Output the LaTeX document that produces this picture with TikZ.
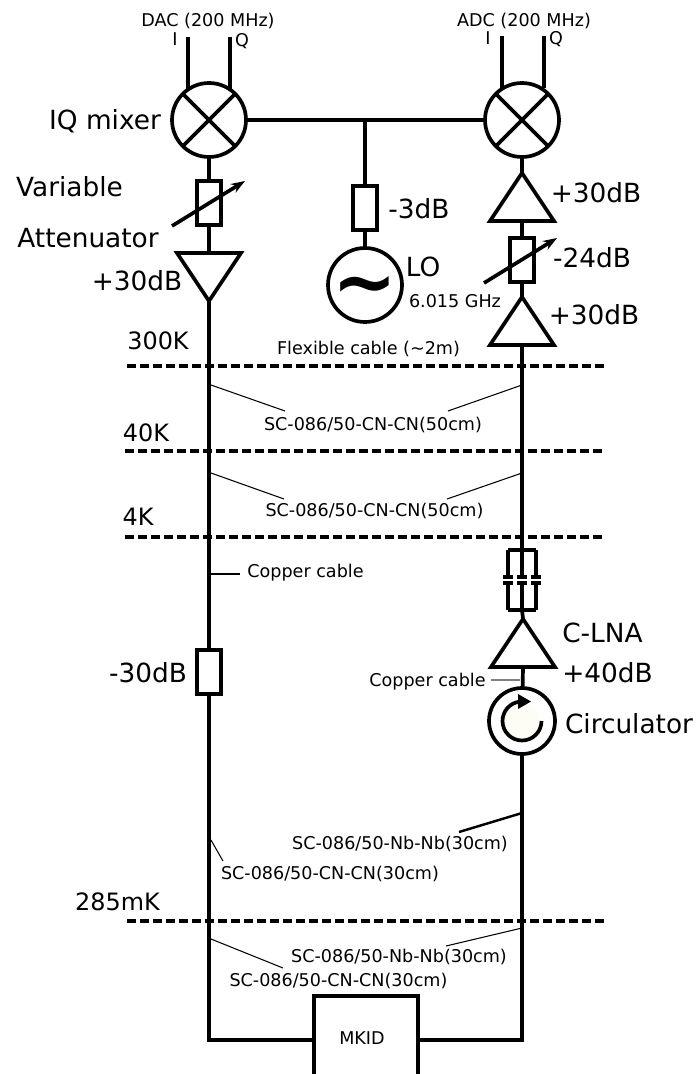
\documentclass[tikz,border=0pt]{standalone}
\usepackage{fontspec}
\setmainfont{DejaVu Sans}
\usetikzlibrary{arrows.meta,shapes.geometric}
\definecolor{circfill}{RGB}{253,253,245}

\begin{document}
\begin{tikzpicture}[
        x=1cm, y=-1cm,
        line width=1.05pt,
        mixer/.style={circle, draw, outer sep=0pt, inner sep=0pt, minimum size=0.74cm},
        atten/.style={rectangle, draw, outer sep=0pt, inner sep=0pt, minimum width=0.24cm, minimum height=0.44cm},
        amp/.style={isosceles triangle, draw, isosceles triangle stretches, outer sep=0pt, inner sep=0pt,
            minimum width=0.64cm, minimum height=0.48cm, anchor=apex},
        ampup/.style={amp, shape border rotate=90},
        ampdown/.style={amp, shape border rotate=270},
        big/.style={font=\fontsize{7.5}{9}\selectfont, inner sep=0pt, outer sep=0pt},
        temp/.style={font=\fontsize{6.8}{8}\selectfont, inner sep=0pt, outer sep=0pt},
        small/.style={font=\fontsize{5}{6}\selectfont, inner sep=0pt, outer sep=0pt},
        stage/.style={line width=1.4pt, dash pattern=on 0.09cm off 0.04cm},
        lead/.style={line width=0.3pt},
        tune/.style={-{Stealth[length=0.14cm, width=0.1cm]}},
    ]
        \useasboundingbox (0, 0) rectangle (6.97, 10.74);

        % Temperature stages
        \coordinate (S1L) at (1.27, 3.66); \coordinate (S1R) at (6.05, 3.66);
        \coordinate (S2L) at (1.25, 4.51); \coordinate (S2R) at (6.03, 4.51);
        \coordinate (S3L) at (1.25, 5.37); \coordinate (S3R) at (6.03, 5.37);
        \coordinate (S4L) at (1.27, 9.21); \coordinate (S4R) at (6.05, 9.21);
        \draw[stage] (S1L) -- (S1R);
        \draw[stage] (S2L) -- (S2R);
        \draw[stage] (S3L) -- (S3R);
        \draw[stage] (S4L) -- (S4R);
        \node[temp] (T300) at (1.58, 3.41) {300K};
        \node[temp] (T40) at (1.46, 4.33) {40K};
        \node[temp] (T4) at (1.38, 5.17) {4K};
        \node[temp] (T285) at (1.175, 9.02) {285mK};

        % Mixers and LO
        \node[mixer] (MIXL) at (2.09, 1.20) {};
        \node[mixer] (MIXR) at (5.22, 1.20) {};
        \foreach \m in {MIXL, MIXR} {
            \draw (\m.45) -- (\m.225);
            \draw (\m.135) -- (\m.315);
        }
        \coordinate (LOT) at (3.65, 1.20);
        \draw (MIXL) -- (MIXR);
        \node[atten, minimum height=0.44cm] (ATTLO) at (3.65, 2.08) {};
        \node[mixer] (LO) at (3.65, 2.85) {};
        \node[font=\fontsize{22}{22}\bfseries\selectfont, inner sep=0pt] (TILDE) at (3.65, 2.92) {\char`\~};
        \draw (LOT) -- (ATTLO);
        \draw (ATTLO) -- (LO);

        % DAC and ADC inputs
        \coordinate (DI) at (1.88, 0.37); \coordinate (DQ) at (2.30, 0.37);
        \coordinate (DIB) at (1.88, 0.89); \coordinate (DQB) at (2.30, 0.89);
        \coordinate (AI) at (5.02, 0.36); \coordinate (AQ) at (5.44, 0.36);
        \coordinate (AIB) at (5.02, 0.88); \coordinate (AQB) at (5.44, 0.88);
        \draw (DI) -- (DIB);
        \draw (DQ) -- (DQB);
        \draw (AI) -- (AIB);
        \draw (AQ) -- (AQB);
        \node[small] (DAC) at (2.08, 0.21) {DAC (200 MHz)};
        \node[small] (ADC) at (5.24, 0.21) {ADC (200 MHz)};
        \node[small] (DACI) at (1.75, 0.39) {I};
        \node[small] (DACQ) at (2.42, 0.41) {Q};
        \node[small] (ADCI) at (4.88, 0.38) {I};
        \node[small] (ADCQ) at (5.56, 0.39) {Q};

        % Left chain
        \node[atten] (ATTL) at (2.09, 2.03) {};
        \node[ampdown] (AMPL) at (2.09, 3.01) {};
        \node[atten] (ATTC) at (2.09, 6.72) {};
        \coordinate (ATTLA) at (1.72, 2.26); \coordinate (ATTLB) at (2.45, 1.81);
        \draw (MIXL) -- (ATTL);
        \draw (ATTL) -- (AMPL.lower side);
        \draw[tune] (ATTLA) -- (ATTLB);
        \draw (AMPL.apex) -- (ATTC);
        \node[big] (LMIX) at (1.05, 1.21) {IQ mixer};
        \node[big] (LVAR) at (0.695, 1.87) {Variable};
        \node[big] (LATT) at (0.88, 2.38) {Attenuator};
        \node[big] (LAMPL) at (1.37, 2.81) {+30dB};
        \node[big] (LATTC) at (1.48, 6.73) {-30dB};

        % LO labels
        \node[big] (LATTLO) at (4.19, 2.09) {-3dB};
        \node[big] (LLO) at (4.23, 2.67) {LO};
        \node[small] (LFREQ) at (4.55, 3.01) {6.015 GHz};

        % Right chain
        \node[ampup] (AMPA) at (5.22, 1.73) {};
        \node[atten] (ATTR) at (5.22, 2.60) {};
        \node[ampup] (AMPB) at (5.22, 2.97) {};
        \coordinate (ATTRA) at (4.84, 2.83); \coordinate (ATTRB) at (5.57, 2.38);
        \draw (MIXR) -- (AMPA.apex);
        \draw (AMPA.lower side) -- (ATTR);
        \draw (ATTR) -- (AMPB.apex);
        \draw[tune] (ATTRA) -- (ATTRB);
        \node[big] (LAMPA) at (5.96, 1.93) {+30dB};
        \node[big] (LATTR) at (5.92, 2.58) {-24dB};
        \node[big] (LAMPB) at (5.94, 3.15) {+30dB};

        % DC block
        \coordinate (CAPT) at (5.22, 5.50);
        \coordinate (CAPB) at (5.22, 6.10);
        \draw (AMPB.lower side) -- (CAPT);
        \foreach \dx in {-0.14, 0, 0.14} {
            \draw ([xshift=\dx cm]CAPT) -- ++(0, 0.27) ++(-0.05, 0) -- ++(0.10, 0);
            \draw ([xshift=\dx cm]CAPB) -- ++(0, -0.27) ++(-0.05, 0) -- ++(0.10, 0);
        }
        \draw ([xshift=-0.14cm]CAPT) -- ([xshift=0.14cm]CAPT);
        \draw ([xshift=-0.14cm]CAPB) -- ([xshift=0.14cm]CAPB);

        % Cold amplifier and circulator
        \node[ampup] (LNA) at (5.23, 6.19) {};
        \node[circle, draw, fill=white, outer sep=0pt, inner sep=0pt, minimum size=0.66cm] (CIRC) at (5.22, 7.21) {};
        \node[circle, fill=circfill, inner sep=0pt, minimum size=0.36cm] (CIRCIN) at (5.22, 7.21) {};
        \coordinate (CIRCA) at (5.415, 7.21);
        \draw (CAPB) -- (LNA.apex);
        \draw (LNA.lower side) -- (CIRC);
        \draw (CIRCA) arc[start angle=0, end angle=-260, radius=0.195cm];
        \fill (5.18, 6.94) -- (5.31, 7.015) -- (5.18, 7.09) -- cycle;
        \node[big] (LLNA) at (6.025, 6.33) {C-LNA};
        \node[big] (LLNB) at (6.075, 6.73) {+40dB};
        \node[big] (LCIRC) at (6.29, 7.24) {Circulator};

        % MKID and closing wires
        \node[rectangle, draw, outer sep=0pt, inner sep=0pt, minimum width=1.04cm, minimum height=1.0cm, anchor=north] (MKID) at (3.66, 9.96) {};
        \node[small] (LMKID) at (3.62, 10.38) {MKID};
        \coordinate (MKIDL) at (3.14, 10.40);
        \coordinate (MKIDR) at (4.18, 10.40);
        \draw (ATTC) |- (MKIDL);
        \draw (CIRC) |- (MKIDR);

        % Cable labels
        \node[small] (LFLEX) at (3.685, 3.49) {Flexible cable (\char`\~2m)};
        \node[small] (LC1) at (3.73, 4.25) {SC-086/50-CN-CN(50cm)};
        \node[small] (LC2) at (3.745, 5.11) {SC-086/50-CN-CN(50cm)};
        \node[small] (LCU1) at (3.055, 5.73) {Copper cable};
        \node[small] (LCU2) at (4.275, 6.82) {Copper cable};
        \node[small] (LN1) at (4.00, 8.44) {SC-086/50-Nb-Nb(30cm)};
        \node[small] (LC3) at (3.30, 8.74) {SC-086/50-CN-CN(30cm)};
        \node[small] (LN2) at (3.99, 9.57) {SC-086/50-Nb-Nb(30cm)};
        \node[small] (LC4) at (3.385, 9.81) {SC-086/50-CN-CN(30cm)};

        % Leaders
        \draw[lead] (2.11, 3.85) -- (2.85, 4.11);
        \draw[lead] (5.22, 3.85) -- (4.48, 4.11);
        \draw[lead] (2.11, 4.73) -- (2.84, 4.99);
        \draw[lead] (5.22, 4.73) -- (4.47, 4.99);
        \draw[lead] (2.11, 5.74) -- (2.40, 5.74);
        \draw[lead, gray] (4.91, 6.80) -- (5.20, 6.80);
        \draw[line width=0.7pt] (5.22, 8.13) -- (4.59, 8.32);
        \draw[lead] (2.11, 8.40) -- (2.23, 8.61);
        \draw[lead] (2.11, 9.39) -- (2.83, 9.68);
        \draw[lead] (5.22, 9.28) -- (4.46, 9.46);
    \end{tikzpicture}
\end{document}
